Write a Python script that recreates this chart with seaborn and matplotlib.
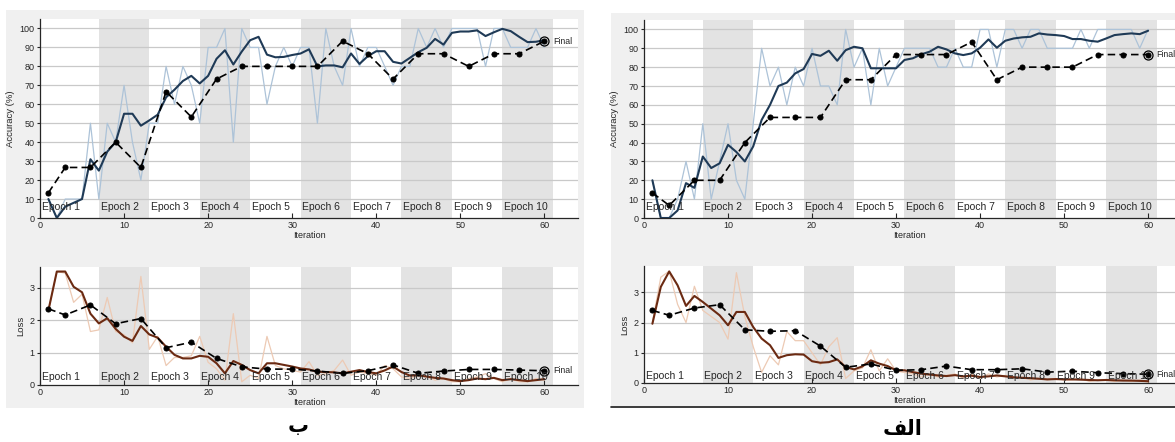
import matplotlib
matplotlib.use("Agg")
import matplotlib.pyplot as plt
from matplotlib.patches import Rectangle
import numpy as np
import pandas as pd
import seaborn as sns

# ---------------- data ----------------
iterations = list(range(1, 61))
val_iterations = [1, 3, 6, 9, 12, 15, 18, 21, 24, 27, 30, 33, 36, 39, 42, 45, 48, 51, 54, 57, 60]
epoch_names = [f"Epoch {k}" for k in range(1, 11)]
epoch_label_x = [0.2, 7.2, 13.2, 19.2, 25.2, 31.2, 37.2, 43.2, 49.2, 55.2]
shaded_epochs = [(7, 13), (19, 25), (31, 37), (43, 49), (55, 61)]
acc_ticks = list(range(0, 101, 10))
loss_ticks = [0, 1, 2, 3]
iter_ticks = [0, 10, 20, 30, 40, 50, 60]
panel_titles = ["ب", "ﻒﻟﺍ"]   # ب  /  الف

# model b (left)
b_acc_raw = [10, 0, 10, 10, 10, 50, 10, 50, 40, 70, 40, 20, 50, 50, 80, 60, 80, 70, 50, 90,
             90, 100, 40, 100, 90, 90, 60, 80, 90, 80, 90, 90, 50, 100, 80, 70, 100, 80, 90, 90,
             80, 70, 80, 80, 100, 90, 100, 90, 100, 100, 100, 100, 80, 100, 100, 90, 90, 90, 100, 90]
b_acc_smooth = [10, 0, 6, 8, 10, 31, 25, 35, 40, 55, 55, 48.7, 51.5, 54.5, 63.7, 67.7, 72.3, 75, 71, 75,
                84, 88.5, 81, 87.8, 93.8, 95.6, 86.2, 84.8, 85, 86, 86.8, 89, 80, 80.5, 80.5, 79.5, 86.8, 81.3, 85.4, 88,
                88, 82.4, 81.5, 84.5, 87.5, 89.8, 94.5, 91.5, 97.7, 98.4, 98.4, 99, 96, 98, 99.8, 98.6, 95.6, 92.8, 93, 93.8]
b_acc_val = [13.33, 26.67, 26.67, 40, 26.67, 66.67, 53.33, 73.33, 80, 80, 80, 80, 93.33, 86.67, 73.33,
             86.67, 86.67, 80, 86.67, 86.67, 93.33]
b_loss_raw = [2.3, 3.5, 3.45, 2.55, 2.8, 1.65, 1.7, 2.7, 1.65, 1.55, 1.3, 3.35, 1.1, 1.5, 0.6, 0.85, 0.85, 0.9, 1.5, 0.7,
              0.5, 0.15, 2.2, 0.1, 0.3, 0.2, 1.5, 0.6, 0.5, 0.45, 0.4, 0.72, 0.3, 0.35, 0.45, 0.77, 0.3, 0.4, 0.35, 0.3,
              0.6, 0.5, 0.25, 0.2, 0.3, 0.25, 0.15, 0.2, 0.1, 0.1, 0.2, 0.25, 0.35, 0.2, 0.1, 0.2, 0.1, 0.1, 0.2, 0.15]
b_loss_smooth = [2.3, 3.5, 3.5, 3.03, 2.86, 2.2, 1.9, 2.06, 1.73, 1.49, 1.36, 1.82, 1.56, 1.46, 1.18, 0.93, 0.82, 0.82, 0.9, 0.87,
                 0.67, 0.36, 0.74, 0.62, 0.46, 0.36, 0.67, 0.67, 0.62, 0.57, 0.51, 0.48, 0.41, 0.40, 0.39, 0.36, 0.41, 0.46, 0.40, 0.36,
                 0.45, 0.57, 0.40, 0.29, 0.30, 0.26, 0.22, 0.20, 0.15, 0.12, 0.15, 0.20, 0.18, 0.22, 0.15, 0.18, 0.15, 0.12, 0.15, 0.18]
b_loss_val = [2.35, 2.16, 2.47, 1.89, 2.05, 1.15, 1.32, 0.82, 0.56, 0.49, 0.49, 0.43, 0.36, 0.44, 0.62,
              0.36, 0.43, 0.48, 0.48, 0.46, 0.44]

# model alef (right)
a_acc_raw = [20, 0, 0, 10, 30, 10, 50, 10, 30, 50, 20, 10, 50, 90, 70, 80, 60, 80, 70, 90,
             70, 70, 60, 100, 80, 90, 60, 90, 70, 80, 90, 90, 90, 90, 80, 80, 90, 80, 80, 100,
             100, 80, 100, 100, 90, 100, 100, 90, 90, 90, 90, 100, 90, 100, 100, 100, 100, 100, 90, 100]
a_acc_smooth = [20, 0, 0, 4, 18.5, 16, 32.6, 26.5, 29, 38.8, 35, 30, 38, 52, 60, 70, 71.8, 76.7, 79, 87,
                86, 88.7, 83.4, 89, 90.8, 90, 79.4, 79.4, 79.4, 79.4, 83.8, 84.7, 86.8, 88.2, 90.8, 89.4, 87.3, 86.4, 87.3, 90.3,
                94.7, 90.3, 94, 95.2, 95.8, 96.1, 97.9, 97.3, 97, 96.5, 94.9, 94.9, 94, 93.5, 95.2, 97, 97.5, 97.9, 97.5, 99.3]
a_acc_val = [13.33, 6.67, 20, 20, 40, 53.33, 53.33, 53.33, 73.33, 73.33, 86.67, 86.67, 86.67, 93.33, 73.33,
             80, 80, 80, 86.67, 86.67, 86.67]
a_loss_raw = [2.0, 3.5, 3.7, 2.6, 2.0, 3.2, 2.4, 2.2, 2.0, 1.45, 3.65, 2.2, 1.2, 0.35, 0.9, 0.6, 1.7, 1.4, 1.4, 1.0,
              0.6, 1.2, 1.5, 0.15, 0.4, 0.5, 1.1, 0.4, 0.8, 0.4, 0.35, 0.3, 0.2, 0.3, 0.2, 0.25, 0.3, 0.15, 0.3, 0.15,
              0.3, 0.2, 0.25, 0.15, 0.2, 0.1, 0.15, 0.1, 0.15, 0.1, 0.1, 0.15, 0.05, 0.1, 0.1, 0.05, 0.1, 0.05, 0.1, 0.02]
a_loss_smooth = [1.96, 3.18, 3.69, 3.23, 2.55, 2.88, 2.68, 2.46, 2.24, 1.91, 2.35, 2.35, 1.85, 1.47, 1.25, 0.83, 0.92, 0.95, 0.94, 0.72,
                 0.67, 0.69, 0.78, 0.53, 0.45, 0.55, 0.75, 0.64, 0.56, 0.42, 0.42, 0.36, 0.31, 0.28, 0.25, 0.23, 0.26, 0.22, 0.24, 0.20,
                 0.22, 0.25, 0.22, 0.19, 0.17, 0.16, 0.14, 0.12, 0.13, 0.12, 0.12, 0.11, 0.10, 0.09, 0.10, 0.09, 0.08, 0.08, 0.07, 0.06]
a_loss_val = [2.4, 2.24, 2.48, 2.59, 1.76, 1.71, 1.73, 1.22, 0.52, 0.63, 0.42, 0.44, 0.56, 0.44, 0.44,
              0.47, 0.36, 0.39, 0.34, 0.31, 0.29]

# ---------------- style ----------------
sns.set_theme(style="white")
plt.rcParams["font.family"] = ["Liberation Sans", "DejaVu Sans"]
plt.rcParams["axes.linewidth"] = 0.9

ACC_RAW = "#adc3d8"
ACC_SMOOTH = "#1f3a56"
LOSS_RAW = "#edcab4"
LOSS_SMOOTH = "#6b2a12"
BAND = "#e3e3e3"
GRID = "#c9c9c9"
PANEL = "#f0f0f0"

W, H = 1175, 442
fig = plt.figure(figsize=(W / 100, H / 100), dpi=100)
fig.patch.set_facecolor("white")


def fig_rect(x0, y0, x1, y1):
    """Pixel box (top-left origin) -> figure-fraction rect."""
    return [x0 / W, 1 - y1 / H, (x1 - x0) / W, (y1 - y0) / H]


# panel backgrounds
for (x0, y0, x1, y1) in [(6, 10, 584, 408), (611, 13, 1175, 406)]:
    r = fig_rect(x0, y0, x1, y1)
    fig.patches.append(Rectangle((r[0], r[1]), r[2], r[3], transform=fig.transFigure,
                                 facecolor=PANEL, edgecolor="none", zorder=-10))
fig.add_artist(plt.Line2D([611 / W, 1.0], [1 - 406.5 / H, 1 - 406.5 / H],
                          transform=fig.transFigure, color="#1a1a1a", lw=1.2))


def style_axis(ax, xmax, ylim, yticks, ylabel, show_xlabel):
    ax.set_facecolor("white")
    ax.set_xlim(0, xmax)
    ax.set_ylim(*ylim)
    ax.set_xticks(iter_ticks)
    ax.set_yticks(yticks)
    for s in ["top", "right"]:
        ax.spines[s].set_visible(False)
    for s in ["left", "bottom"]:
        ax.spines[s].set_color("#262626")
    ax.tick_params(axis="x", direction="in", length=3.5, width=0.8, pad=2,
                   labelsize=6.5, colors="#262626", bottom=True)
    ax.tick_params(axis="y", direction="out", length=2.5, width=0.8, pad=1.5,
                   labelsize=6.5, colors="#262626", left=True)
    ax.grid(False)
    for t in yticks[1:]:
        ax.axhline(t, color=GRID, lw=0.9, zorder=0.5)
    for a, b in shaded_epochs:
        ax.axvspan(a, b, color=BAND, lw=0, zorder=0.2)
    ax.set_ylabel(ylabel, fontsize=6.8, labelpad=3, color="#262626")
    ax.set_xlabel("Iteration" if show_xlabel else "", fontsize=6.5, labelpad=1, color="#262626")


def draw_metric(ax, raw, smooth, val, raw_color, smooth_color, label_y):
    df = pd.DataFrame({"Iteration": iterations, "raw": raw, "smooth": smooth})
    dv = pd.DataFrame({"Iteration": val_iterations, "val": val})
    sns.lineplot(data=df, x="Iteration", y="raw", ax=ax, color=raw_color, lw=0.9, zorder=2)
    sns.lineplot(data=df, x="Iteration", y="smooth", ax=ax, color=smooth_color, lw=1.5, zorder=3)
    sns.lineplot(data=dv, x="Iteration", y="val", ax=ax, color="black", lw=1.2,
                 linestyle=(0, (4.5, 2.5)), marker="o", markersize=3.6,
                 markeredgecolor="black", markerfacecolor="black", zorder=4)
    # final validation point
    ax.plot(val_iterations[-1], val[-1], marker="o", markersize=6.5, markerfacecolor="none",
            markeredgecolor="black", markeredgewidth=0.9, zorder=5, clip_on=False)
    ax.text(val_iterations[-1] + 1.0, val[-1], "Final", fontsize=6.3, va="center",
            ha="left", color="#262626", zorder=5)
    for x, name in zip(epoch_label_x, epoch_names):
        ax.text(x, label_y, name, fontsize=7.5, va="center", ha="left", color="#262626", zorder=6)
    ax.set_xlabel("")
    ax.set_ylabel("")


panels = [
    dict(acc_box=(40, 19, 578, 218), loss_box=(40, 267, 578, 385), xmax=64.0, loss_top=3.64,
         acc=(b_acc_raw, b_acc_smooth, b_acc_val), loss=(b_loss_raw, b_loss_smooth, b_loss_val),
         title_x=298, title_y=426),
    dict(acc_box=(644, 20, 1175, 218), loss_box=(644, 266, 1175, 383), xmax=63.2, loss_top=3.87,
         acc=(a_acc_raw, a_acc_smooth, a_acc_val), loss=(a_loss_raw, a_loss_smooth, a_loss_val),
         title_x=903, title_y=429),
]

for p, title in zip(panels, panel_titles):
    ax_acc = fig.add_axes(fig_rect(*p["acc_box"]))
    ax_loss = fig.add_axes(fig_rect(*p["loss_box"]))
    draw_metric(ax_acc, *p["acc"], ACC_RAW, ACC_SMOOTH, label_y=5.7)
    draw_metric(ax_loss, *p["loss"], LOSS_RAW, LOSS_SMOOTH, label_y=0.24)
    style_axis(ax_acc, p["xmax"], (0, 105), acc_ticks, "Accuracy (%)", True)
    style_axis(ax_loss, p["xmax"], (0, p["loss_top"]), loss_ticks, "Loss", True)
    fig.text(p["title_x"] / W, 1 - p["title_y"] / H, title, fontsize=15, fontweight="bold",
             family="DejaVu Sans", ha="center", va="center", color="black")

fig.savefig("out.png", dpi=100, facecolor=fig.get_facecolor())
